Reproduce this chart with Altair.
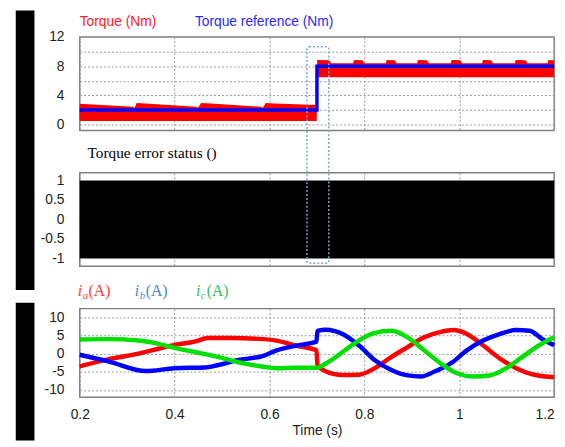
import altair as alt
import pandas as pd

# ---------------- data ----------------
X_TICKS = [0.2, 0.4, 0.6, 0.8, 1.0, 1.2]
TORQUE_TICKS = [0, 2, 4, 6, 8, 10, 12]
STATUS_TICKS = [-1, -0.5, 0, 0.5, 1]
CURRENT_TICKS = [-10, -5, 0, 5, 10]

# torque: jagged upper edge of the red band
TORQUE_T = [0.2, 0.312, 0.316, 0.320, 0.338, 0.445, 0.449, 0.456, 0.476,
            0.582, 0.586, 0.592, 0.611, 0.6995,
            0.7005, 0.726, 0.730, 0.776, 0.778, 0.796, 0.800, 0.845, 0.847,
            0.864, 0.868, 0.911, 0.913, 0.932, 0.936, 0.982, 0.984, 1.002,
            1.006, 1.048, 1.050, 1.067, 1.071, 1.117, 1.119, 1.140, 1.144,
            1.186, 1.188, 1.2]
TORQUE_UPPER = [2.85, 2.45, 2.3, 2.95, 2.9, 2.45, 2.3, 2.95, 2.9,
                2.45, 2.3, 2.95, 2.9, 2.7,
                8.85, 8.8, 8.4, 8.4, 8.85, 8.8, 8.4, 8.4, 8.85,
                8.8, 8.4, 8.4, 8.85, 8.8, 8.4, 8.4, 8.85, 8.8,
                8.4, 8.4, 8.85, 8.8, 8.4, 8.4, 8.85, 8.8, 8.4,
                8.4, 8.85, 8.8]
TORQUE_LOW_BEFORE = 0.5
TORQUE_LOW_AFTER = 6.5
STEP_TIME = 0.7

REF_T = [0.2, 0.7, 0.7, 1.2]
REF_V = [2, 2, 8, 8]

STATUS_T = [0.2, 1.2]
STATUS_LOW = [-1, -1]
STATUS_HIGH = [1, 1]

HIGHLIGHT_T = [0.679, 0.725]

IA_T = [0.2, 0.262, 0.324, 0.366, 0.40, 0.442, 0.47, 0.518, 0.587, 0.615,
        0.656, 0.699, 0.701, 0.719, 0.754, 0.788, 0.822, 0.857, 0.891, 0.926,
        0.961, 0.988, 1.016, 1.05, 1.085, 1.12, 1.154, 1.182, 1.2]
IA_V = [-3.5, -1.5, 0, 1.35, 2.4, 3.3, 4.3, 4.3, 4.0, 3.6,
        2.2, 0.9, -3.2, -4.9, -5.9, -5.8, -4.0, -0.9, 1.8, 4.5,
        6.0, 6.5, 5.4, 2.3, -1.3, -4.0, -5.7, -6.3, -6.5]

IB_T = [0.2, 0.262, 0.339, 0.40, 0.463, 0.49, 0.532, 0.587, 0.615, 0.656,
        0.699, 0.701, 0.719, 0.754, 0.788, 0.822, 0.857, 0.891, 0.919, 0.947,
        0.982, 1.016, 1.05, 1.085, 1.12, 1.148, 1.175, 1.2]
IB_V = [-0.3, -2.2, -4.8, -4.0, -3.8, -3.2, -1.8, -0.6, 0.9, 2.2,
        3.3, 6.3, 6.6, 5.4, 2.3, -1.8, -4.5, -6.0, -6.3, -5.0,
        -2.7, 0.9, 3.6, 5.4, 6.5, 6.3, 4.0, 2.3]

IC_T = [0.2, 0.262, 0.324, 0.366, 0.40, 0.442, 0.484, 0.532, 0.587, 0.615,
        0.656, 0.699, 0.719, 0.754, 0.788, 0.822, 0.857, 0.891, 0.926, 0.961,
        0.995, 1.03, 1.064, 1.099, 1.133, 1.168, 1.2]
IC_V = [3.9, 4.0, 3.6, 2.7, 1.6, 0.45, -0.7, -2.3, -3.6, -4.0,
        -3.9, -3.9, -2.7, 0.45, 3.6, 5.7, 6.3, 4.5, 0.9, -2.7,
        -5.4, -6.3, -6.0, -4.0, -0.9, 2.3, 4.5]

# ---------------- tables ----------------
torque_df = pd.DataFrame({
    "t": TORQUE_T,
    "upper": TORQUE_UPPER,
    "lower": [TORQUE_LOW_BEFORE if t < STEP_TIME else TORQUE_LOW_AFTER for t in TORQUE_T],
})
ref_df = pd.DataFrame({"t": REF_T, "upper": REF_V})
status_df = pd.DataFrame({"t": STATUS_T, "lo": STATUS_LOW, "hi": STATUS_HIGH})
hl_df = pd.DataFrame({"x0": [HIGHLIGHT_T[0]], "x1": [HIGHLIGHT_T[1]]})
cur_df = pd.concat([
    pd.DataFrame({"t": IA_T, "v": IA_V, "phase": "a"}),
    pd.DataFrame({"t": IB_T, "v": IB_V, "phase": "b"}),
    pd.DataFrame({"t": IC_T, "v": IC_V, "phase": "c"}),
])

W = 482
SANS = "Liberation Sans"
SERIF = "Liberation Serif"

xs = alt.Scale(domain=[0.2, 1.2], nice=False, zero=False)
x_hidden = alt.Axis(values=X_TICKS, labels=False, ticks=False, domain=False,
                    grid=True, title=None)


def ylab_axis(values, expr, grid=True):
    return alt.Axis(values=values, labelExpr=expr, ticks=False, domain=False,
                    grid=grid, title=None, labelPadding=16, labelFlush=False,
                    labelOverlap=False)


def label(text, px, py, color, font, size, style="normal"):
    return alt.Chart(pd.DataFrame({"s": [text]})).mark_text(
        align="left", baseline="alphabetic", font=font, fontSize=size,
        fontStyle=style, color=color
    ).encode(x=alt.value(px), y=alt.value(py), text="s:N")


def black_bar(y0, y1):
    return alt.Chart(pd.DataFrame({"a": [0]})).mark_rect(color="black").encode(
        x=alt.value(-65), x2=alt.value(-46), y=alt.value(y0), y2=alt.value(y1))


# ---------------- panel 1 : torque ----------------
ys1 = alt.Scale(domain=[-0.8, 12], nice=False, zero=False)
ax1 = ylab_axis(TORQUE_TICKS, "datum.value % 4 == 0 ? toString(datum.value) : ''")
band = alt.Chart(torque_df).mark_area(color="#ff0000", interpolate="linear").encode(
    x=alt.X("t:Q", scale=xs, axis=x_hidden),
    y=alt.Y("upper:Q", scale=ys1, axis=ax1),
    y2="lower:Q",
)
ref = alt.Chart(ref_df).mark_line(color="#0000ff", strokeWidth=3.5).encode(
    x=alt.X("t:Q", scale=xs, axis=x_hidden),
    y=alt.Y("upper:Q", scale=ys1, axis=ax1),
)
p1 = alt.layer(
    black_bar(-27, 257), band, ref,
    label("Torque (Nm)", 0, -11, "#ff2020", SANS, 14),
    label("Torque reference (Nm)", 117, -11, "#2a2aff", SANS, 14),
).properties(width=W, height=95)

# ---------------- panel 2 : torque error status ----------------
status = alt.Chart(status_df).mark_area(color="black").encode(
    x=alt.X("t:Q", scale=xs, axis=x_hidden),
    y=alt.Y("lo:Q", scale=alt.Scale(domain=[-1.2, 1.2], nice=False, zero=False),
            axis=ylab_axis(STATUS_TICKS, "toString(datum.value)", grid=False)),
    y2="hi:Q",
)
hl = alt.Chart(hl_df).mark_rect(
    fillOpacity=0, stroke="#7ea3da", strokeWidth=1.5, strokeDash=[2, 2], cornerRadius=2
).encode(x=alt.X("x0:Q", scale=xs, axis=x_hidden), x2="x1:Q",
         y=alt.value(-128), y2=alt.value(92))
p2 = alt.layer(
    status, hl,
    label("Torque error status ()", 8, -15, "black", SERIF, 15.5),
).properties(width=W, height=95)

# ---------------- panel 3 : phase currents ----------------
cur = alt.Chart(cur_df).mark_line(strokeWidth=4.5, interpolate="monotone").encode(
    x=alt.X("t:Q", scale=xs,
            axis=alt.Axis(values=X_TICKS, labelExpr="toString(datum.value)",
                          labelAlign={"condition": {"test": "datum.value > 1.19", "value": "right"},
                                      "value": "center"},
                          ticks=False, domain=False, grid=True, title="Time (s)",
                          labelPadding=11, labelFlush=False, titlePadding=2,
                          titleFont=SANS, titleFontSize=14, titleFontWeight="normal",
                          titleColor="#222")),
    y=alt.Y("v:Q", scale=alt.Scale(domain=[-12, 12.4], nice=False, zero=False),
            axis=ylab_axis(CURRENT_TICKS, "toString(datum.value)")),
    color=alt.Color("phase:N", scale=alt.Scale(domain=["a", "b", "c"],
                                               range=["#ff0000", "#0000ff", "#00e000"]),
                    legend=None),
    order=alt.Order("phase:N"),
)
leg = []
for px, sub, col in [(-2, "a", "#ff3b3b"), (56, "b", "#4f86cc"), (118, "c", "#36c060")]:
    leg.append(label("i", px, -13, col, SERIF, 16, "italic"))
    leg.append(label(sub, px + 5, -10, col, SERIF, 11, "italic"))
    leg.append(label("(A)", px + 11, -13, col, SERIF, 16))
p3 = alt.layer(black_bar(-6, 134), cur, *leg).properties(width=W, height=90)

chart = alt.vconcat(p1, p2, p3, spacing=43, bounds="flush").properties(
    padding={"left": 15, "top": 6, "right": 1, "bottom": 0},
    background="white",
).configure_view(
    stroke="#7f7f7f", strokeWidth=1.5
).configure_axis(
    gridColor="#999999", gridDash=[2, 2], gridWidth=1, gridOpacity=1,
    labelFont=SANS, labelFontSize=14, labelColor="#222",
)

chart.save("out.html", embed_options={"renderer": "svg", "actions": False})
